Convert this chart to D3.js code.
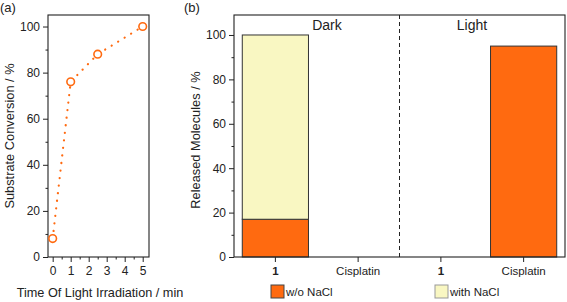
<!DOCTYPE html>
<html><head><meta charset="utf-8">
<script src="https://cdn.jsdelivr.net/npm/d3@7/dist/d3.min.js"></script>
<style>body{margin:0;background:#fff}svg{display:block;font-family:"Liberation Sans",Arial,sans-serif}</style>
</head><body><svg id="c" width="567" height="302"></svg>
<script>
// Panel (a)
const timeMin = [0, 1, 2.5, 5];
const conversion = [8, 76, 88, 100];
const aXTicks = [0, 1, 2, 3, 4, 5];
const aYTicks = [0, 20, 40, 60, 80, 100];
// Panel (b)
const categories = ["Dark|1", "Dark|Cisplatin", "Light|1", "Light|Cisplatin"];
const catLabels = ["1", "Cisplatin", "1", "Cisplatin"];
const woNaCl = [17, 0, 0, 95];
const withNaCl = [83, 0, 0, 0];
const bYTicks = [0, 20, 40, 60, 80, 100];
const seriesNames = ["w/o NaCl", "with NaCl"];
const conditions = ["Dark", "Light"];

const ORANGE = "#ff6a10", PALE = "#f9f7c2", INK = "#222";
const svg = d3.select("#c");

// ---------- panel a ----------
const ax = d3.scaleLinear().domain([-0.26, 5.35]).range([48, 149]);
const ay = d3.scaleLinear().domain([0, 105]).range([257, 15]);
const ga = svg.append("g");
ga.append("text").attr("x", 0).attr("y", 12).attr("font-size", 13).attr("fill", INK).text("(a)");
ga.append("g").attr("transform", "translate(0,257)")
  .call(d3.axisBottom(ax).tickValues(d3.range(0.5, 5, 1)).tickSize(2.5).tickFormat(""))
  .call(g => g.select(".domain").remove());
ga.append("g").attr("transform", "translate(48,0)")
  .call(d3.axisLeft(ay).tickValues(d3.range(10, 101, 20)).tickSize(2.5).tickFormat(""))
  .call(g => g.select(".domain").remove());
const axb = ga.append("g").attr("transform", "translate(0,257)")
  .call(d3.axisBottom(ax).tickValues(aXTicks).tickSize(5).tickPadding(4).tickFormat(d3.format("d")));
axb.select(".domain").remove();
const axl = ga.append("g").attr("transform", "translate(48,0)")
  .call(d3.axisLeft(ay).tickValues(aYTicks).tickSize(5).tickPadding(3));
axl.select(".domain").remove();
[axb, axl].forEach(g => { g.selectAll("text").attr("font-size", 12).attr("fill", INK); });
ga.selectAll(".tick line").attr("stroke", INK);
ga.append("rect").attr("x", 48).attr("y", 15).attr("width", 101).attr("height", 242)
  .attr("fill", "none").attr("stroke", INK).attr("stroke-width", 1.1);
const pts = timeMin.map((t, i) => [ax(t), ay(conversion[i])]);
ga.append("path").attr("d", d3.line()(pts)).attr("fill", "none").attr("stroke", ORANGE)
  .attr("stroke-width", 2.2).attr("stroke-dasharray", "0.1,7.5").attr("stroke-linecap", "round");
ga.selectAll("circle").data(pts).join("circle").attr("cx", d => d[0]).attr("cy", d => d[1])
  .attr("r", 3.8).attr("fill", "#fff").attr("stroke", ORANGE).attr("stroke-width", 1.6);
ga.append("text").attr("x", 100).attr("y", 297).attr("text-anchor", "middle").attr("font-size", 12.7).attr("fill", INK)
  .text("Time Of Light Irradiation / min");
ga.append("text").attr("transform", "translate(14,136) rotate(-90)").attr("text-anchor", "middle").attr("font-size", 12.8).attr("fill", INK)
  .text("Substrate Conversion / %");

// ---------- panel b ----------
const bx = d3.scaleBand().domain(categories).range([234, 565]).paddingInner(0.2).paddingOuter(0.1);
const by = d3.scaleLinear().domain([0, 109]).range([257, 15]);
const gb = svg.append("g");
gb.append("text").attr("x", 184).attr("y", 12).attr("font-size", 13).attr("fill", INK).text("(b)");
gb.append("g").attr("transform", "translate(234,0)")
  .call(d3.axisLeft(by).tickValues(d3.range(10, 101, 20)).tickSize(2.5).tickFormat(""))
  .call(g => g.select(".domain").remove());
const bl = gb.append("g").attr("transform", "translate(234,0)")
  .call(d3.axisLeft(by).tickValues(bYTicks).tickSize(5).tickPadding(3));
bl.select(".domain").remove();
const bb = gb.append("g").attr("transform", "translate(0,257)")
  .call(d3.axisBottom(bx).tickSize(5).tickPadding(5).tickFormat((d, i) => catLabels[i]));
bb.select(".domain").remove();
[bl, bb].forEach(g => { g.selectAll("text").attr("font-size", 12).attr("fill", INK); });
bb.selectAll("text").attr("font-size", 11.5).attr("font-weight", (d, i) => catLabels[i] === "1" ? "bold" : null);
gb.selectAll(".tick line").attr("stroke", INK);

const stack = d3.stack().keys([0, 1]).value((d, k) => d[k])(categories.map((c, i) => [woNaCl[i], withNaCl[i]]));
const colors = [ORANGE, PALE];
stack.forEach((layer, li) => {
  gb.append("g").selectAll("rect").data(layer.map((d, i) => ({ d, i })).filter(o => o.d[1] > o.d[0]))
    .join("rect")
    .attr("x", o => bx(categories[o.i])).attr("width", bx.bandwidth())
    .attr("y", o => by(o.d[1])).attr("height", o => by(o.d[0]) - by(o.d[1]))
    .attr("fill", colors[li]).attr("stroke", "#333").attr("stroke-width", 1);
});
const sepX = (bx(categories[1]) + bx.bandwidth() + bx(categories[2])) / 2;
gb.append("line").attr("x1", sepX).attr("x2", sepX).attr("y1", 15).attr("y2", 257)
  .attr("stroke", INK).attr("stroke-width", 1).attr("stroke-dasharray", "4,3");
gb.append("rect").attr("x", 234).attr("y", 15).attr("width", 331).attr("height", 242)
  .attr("fill", "none").attr("stroke", INK).attr("stroke-width", 1.1);
gb.append("text").attr("x", 327).attr("y", 30).attr("text-anchor", "middle").attr("font-size", 14).attr("fill", INK).text(conditions[0]);
gb.append("text").attr("x", 472).attr("y", 30).attr("text-anchor", "middle").attr("font-size", 14).attr("fill", INK).text(conditions[1]);
gb.append("text").attr("transform", "translate(200,140) rotate(-90)").attr("text-anchor", "middle").attr("font-size", 12.8).attr("fill", INK)
  .text("Released Molecules / %");
const legX = [271, 435];
seriesNames.forEach((n, i) => {
  gb.append("rect").attr("x", legX[i]).attr("y", 285).attr("width", 13).attr("height", 13)
    .attr("fill", colors[i]).attr("stroke", i === 0 ? "#444" : "#999").attr("stroke-width", 1);
  gb.append("text").attr("x", legX[i] + 15).attr("y", 296).attr("font-size", 11.5).attr("fill", INK).text(n);
});
</script></body></html>
